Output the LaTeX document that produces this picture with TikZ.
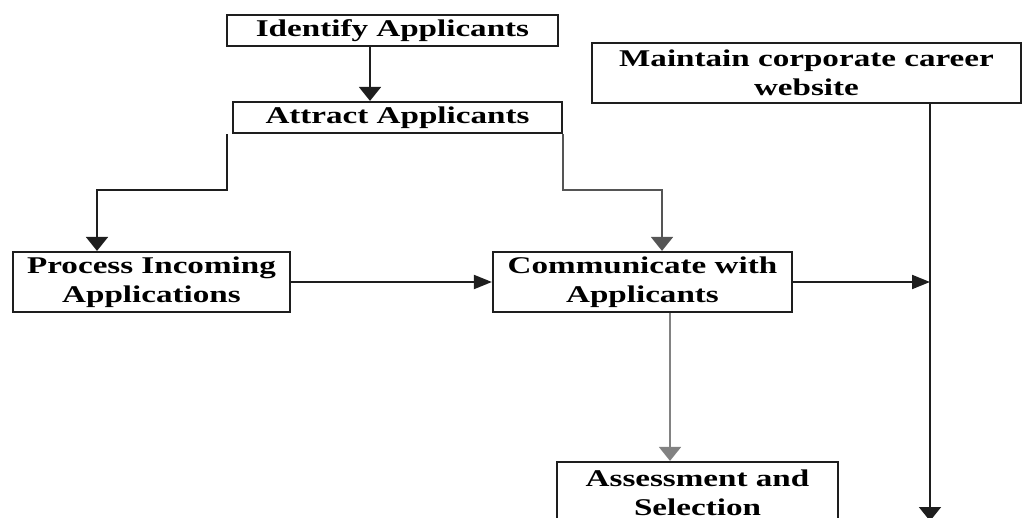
\documentclass[tikz,border=0pt]{standalone}
\usepackage{fontspec}
\setmainfont{Liberation Serif}[FakeStretch=1.38]
\usetikzlibrary{arrows.meta,calc}
\definecolor{dline}{RGB}{30,30,30}
\definecolor{gline}{RGB}{85,85,85}
\definecolor{lgline}{RGB}{130,130,130}
\begin{document}
\begin{tikzpicture}[x=1pt,y=-1pt,
  box/.style={draw=dline,line width=2.2pt,rectangle,inner sep=0pt,align=center,
    font=\fontsize{24}{29}\selectfont\bfseries},
  conn/.style={line width=2pt,draw=dline},
  vtip/.style={-{Triangle[length=14pt,width=22pt]}},
  htip/.style={-{Triangle[length=18pt,width=14pt]}}]
\useasboundingbox (0,0) rectangle (1025,518);
\node[box,minimum width=331pt,minimum height=31pt] (ident) at (392.5,30.5) {Identify Applicants};
\node[box,minimum width=329pt,minimum height=31pt] (attract) at (397.5,117.5) {Attract Applicants};
\node[box,minimum width=429pt,minimum height=60pt] (maintain) at (806.5,73) {Maintain corporate career\\website};
\node[box,minimum width=277pt,minimum height=60pt] (process) at (151.5,282) {Process Incoming\\Applications};
\node[box,minimum width=299pt,minimum height=60pt] (comm) at (642.5,282) {Communicate with\\Applicants};
\node[box,minimum width=281pt,minimum height=62pt] (assess) at (697.5,493) {Assessment and\\Selection};
% helper coordinates
\coordinate (lstart) at ($(attract.south west)+(-5,0)$);
\coordinate (lbend) at (97,190);
\coordinate (rbend) at (662,190);
\coordinate (vx) at (930,0);
\coordinate (vend) at (930,521);
\coordinate (gx) at (670,0);
% connectors
\draw[conn,vtip] (ident.south -| 370,0) -- (attract.north -| 370,0);
\draw[conn,vtip] (lstart) |- (lbend) -- (lbend |- process.north);
\draw[conn,draw=gline,vtip] (attract.south east) |- (rbend) -- (rbend |- comm.north);
\draw[conn,htip] (process.east) -- (comm.west);
\draw[conn,htip] (comm.east) -- (vx |- comm.east);
\draw[conn,vtip] (vx |- maintain.south) -- (vend);
\draw[conn,draw=lgline,vtip] (gx |- comm.south) -- (gx |- assess.north);
\end{tikzpicture}
\end{document}
